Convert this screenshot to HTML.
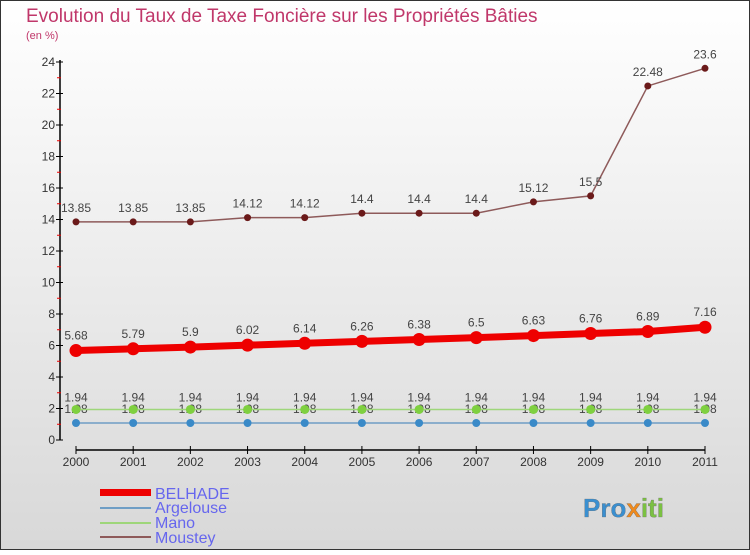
<!DOCTYPE html>
<html><head><meta charset="utf-8"><style>
body{margin:0;width:750px;height:550px;overflow:hidden;font-family:"Liberation Sans",sans-serif}
</style></head><body>
<svg id="c" width="750" height="550" xmlns="http://www.w3.org/2000/svg" font-family="Liberation Sans, sans-serif">
<defs><linearGradient id="bg" x1="0" y1="0" x2="0" y2="1"><stop offset="0" stop-color="#ffffff"/><stop offset="1" stop-color="#d8d8d8"/></linearGradient></defs>
<rect x="0.5" y="0.5" width="749" height="549" fill="url(#bg)" stroke="#333"/>
<text x="26" y="22" font-size="19" fill="#c0376a">Evolution du Taux de Taxe Foncière sur les Propriétés Bâties</text>
<text x="26" y="39" font-size="11" fill="#c0376a">(en %)</text>
<g id="axes"></g><g id="series"></g>
<g>
<rect x="100" y="489" width="51" height="7" fill="#e00"/>
<text x="155" y="499" font-size="16" fill="#6666ee">BELHADE</text>
<line x1="100" y1="508" x2="151" y2="508" stroke="#6f9ec5" stroke-width="2"/>
<text x="155" y="513" font-size="16" fill="#6666ee">Argelouse</text>
<line x1="100" y1="523" x2="151" y2="523" stroke="#9ed67a" stroke-width="2"/>
<text x="155" y="528" font-size="16" fill="#6666ee">Mano</text>
<line x1="100" y1="537" x2="151" y2="537" stroke="#8e5a5a" stroke-width="2"/>
<text x="155" y="543" font-size="16" fill="#6666ee">Moustey</text>
</g>
<g><text x="583" y="517" font-size="26" font-weight="bold" fill="#3a8fd0" stroke="#666" stroke-width="0.3">Pro<tspan fill="#f08a1c">x</tspan><tspan fill="#7bc142">iti</tspan></text></g>
</svg>
<script>
const years=[2000,2001,2002,2003,2004,2005,2006,2007,2008,2009,2010,2011];
const belhade=[5.68,5.79,5.9,6.02,6.14,6.26,6.38,6.5,6.63,6.76,6.89,7.16];
const argelouse=[1.08,1.08,1.08,1.08,1.08,1.08,1.08,1.08,1.08,1.08,1.08,1.08];
const mano=[1.94,1.94,1.94,1.94,1.94,1.94,1.94,1.94,1.94,1.94,1.94,1.94];
const moustey=[13.85,13.85,13.85,14.12,14.12,14.4,14.4,14.4,15.12,15.5,22.48,23.6];
const yTicks=[0,2,4,6,8,10,12,14,16,18,20,22,24];
const NS="http://www.w3.org/2000/svg";
const X=i=>76+i*(705-76)/(years.length-1);
const Y=v=>440-v*(440-62)/24;
function mk(t,a,p){const e=document.createElementNS(NS,t);for(const k in a)e.setAttribute(k,a[k]);p.appendChild(e);return e;}
const ax=document.getElementById('axes'),sr=document.getElementById('series');
let yl=mk('line',{x1:60,y1:60,x2:60,y2:440,stroke:'#000','stroke-width':1.5},ax);


yTicks.forEach(v=>{
 mk('line',{x1:56,y1:Y(v),x2:63,y2:Y(v),stroke:'#000'},ax);
 if(v<24)mk('line',{x1:57,y1:Y(v+1),x2:61,y2:Y(v+1),stroke:'#e00'},ax);
 const t=mk('text',{x:55,y:Y(v)+4,'font-size':12,fill:'#333','text-anchor':'end'},ax);t.textContent=v;
 
 
});
let xl=mk('line',{x1:X(0),y1:450,x2:X(11),y2:450,stroke:'#000','stroke-width':1.5},ax);


years.forEach((y,i)=>{
 mk('line',{x1:X(i),y1:446,x2:X(i),y2:454,stroke:'#000'},ax);
 const t=mk('text',{x:X(i),y:466,'font-size':12,fill:'#333','text-anchor':'middle'},ax);t.textContent=y;
 
 
});
function series(data,name,col,w,r,dot,lbl,dy){
 const g=mk('g',{},sr);
 
 
 mk('polyline',{points:data.map((v,i)=>X(i)+','+Y(v)).join(' '),fill:'none',stroke:col,'stroke-width':w},g);
 data.forEach((v,i)=>{
  const c=mk('circle',{cx:X(i),cy:Y(v),r:r,fill:dot},g);
  
  
  if(lbl){const t=mk('text',{x:X(i),y:Y(v)+dy,'font-size':12,fill:'#444','text-anchor':'middle'},g);t.textContent=v;
  
  }
 });
}
series(argelouse,'argelouse','#6f9ec5',1.5,4,'#3a8ac8',true,-10);
series(mano,'mano','#9ed67a',1.5,4.5,'#7fd040',true,-8);
series(moustey,'moustey','#8e5a5a',1.5,3.5,'#6b1a1a',true,-10);
series(belhade,'belhade','#e00',7,6.5,'#e00',true,-11);
</script>
</body></html>
